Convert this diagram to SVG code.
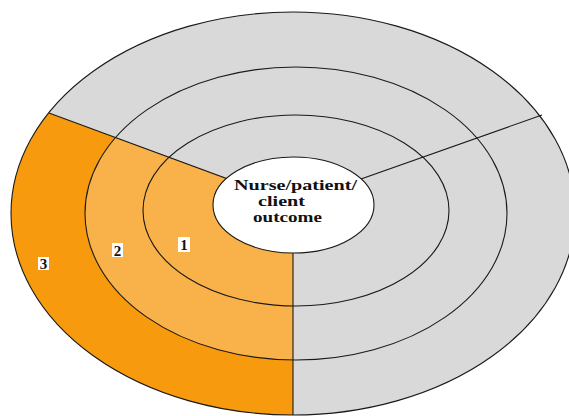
<svg xmlns="http://www.w3.org/2000/svg" width="569" height="416" viewBox="0 0 569 416">
<style>
.ring{fill:none;stroke:#1a1a1a;stroke-width:1.1}
.div{stroke:#1a1a1a;stroke-width:1.1}
.t{font-family:"Liberation Serif","Times New Roman",serif;font-weight:bold;fill:#111}
.lbl{font-family:"Liberation Serif","Times New Roman",serif;font-weight:bold;font-size:15px;fill:#111;text-anchor:middle}
.box{fill:#ffffff}
</style>
<defs>
<clipPath id="orangeClip"><polygon points="293,203 -60,73 -60,440 293,440"/></clipPath>
</defs>
<rect width="569" height="416" fill="#ffffff"/>
<g id="rings-fill">
<ellipse cx="293" cy="213.5" rx="282" ry="201.5" fill="#d9d9d9"/>
<g clip-path="url(#orangeClip)">
<ellipse cx="293" cy="213.5" rx="282" ry="201.5" fill="#f79a0e"/>
<ellipse cx="296" cy="213.5" rx="211" ry="146.5" fill="#f9b24a"/>
</g>
</g>
<g id="connectors">
<line class="div" x1="49" y1="113" x2="293" y2="203"/>
<line class="div" x1="542" y1="115" x2="293" y2="203"/>
<line class="div" x1="293" y1="203" x2="293" y2="415"/>
</g>
<g id="ring-outer"><ellipse class="ring" cx="293" cy="213.5" rx="282" ry="201.5"/></g>
<g id="ring-2"><ellipse class="ring" cx="296" cy="213.5" rx="211" ry="146.5"/></g>
<g id="ring-1"><ellipse class="ring" cx="296" cy="210.5" rx="153" ry="95.5"/></g>
<g id="center">
<ellipse cx="293.5" cy="205" rx="80.5" ry="48" fill="#ffffff" stroke="#1a1a1a" stroke-width="1.1"/>
<text class="t" x="234" y="190" font-size="15" textLength="123" lengthAdjust="spacingAndGlyphs">Nurse/patient/</text>
<text class="t" x="258" y="206" font-size="15" textLength="47" lengthAdjust="spacingAndGlyphs">client</text>
<text class="t" x="253" y="222" font-size="15" textLength="69" lengthAdjust="spacingAndGlyphs">outcome</text>
</g>
<g id="label-3"><rect class="box" x="38" y="257" width="11" height="13"/><text class="lbl" x="43.5" y="269">3</text></g>
<g id="label-2"><rect class="box" x="112" y="243" width="11" height="14"/><text class="lbl" x="117.5" y="256">2</text></g>
<g id="label-1"><rect class="box" x="178" y="237" width="12" height="15"/><text class="lbl" x="184" y="250">1</text></g>
</svg>
